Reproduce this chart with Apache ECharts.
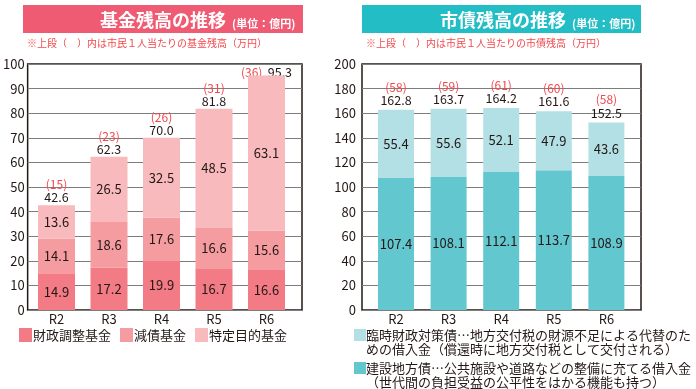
<!DOCTYPE html>
<html><head><meta charset="utf-8">
<script src="https://cdn.jsdelivr.net/npm/echarts@6/dist/echarts.min.js"></script>
<style>html,body{margin:0;padding:0;background:#fff}#c{width:696px;height:389px}</style>
</head><body><div id="c"></div>
<script>
const categories = ['R2', 'R3', 'R4', 'R5', 'R6'];
// 基金残高 (億円)
const zaiseiChosei = [14.9, 17.2, 19.9, 16.7, 16.6];
const gensai = [14.1, 18.6, 17.6, 16.6, 15.6];
const tokutei = [13.6, 26.5, 32.5, 48.5, 63.1];
const kikinTotal = [42.6, 62.3, 70.0, 81.8, 95.3];
const kikinPerCapita = [15, 23, 26, 31, 36];
// 市債残高 (億円)
const kensetsu = [107.4, 108.1, 112.1, 113.7, 108.9];
const rinji = [55.4, 55.6, 52.1, 47.9, 43.6];
const shisaiTotal = [162.8, 163.7, 164.2, 161.6, 152.5];
const shisaiPerCapita = [58, 59, 61, 60, 58];

const FONT = '"Noto Sans CJK JP","Noto Sans",sans-serif';
const DARK = '#231815';
const RED = '#F2484C';
const nameLeft = ['財政調整基金', '減債基金', '特定目的基金'];
const nameRight1 = '臨時財政対策債…地方交付税の財源不足による代替のた';
const nameRight2 = '建設地方債…公共施設や道路などの整備に充てる借入金';

const chart = echarts.init(document.getElementById('c'), null, {renderer: 'canvas'});

function inside() {
  return {show: true, position: 'inside', color: DARK, fontSize: 13, fontFamily: FONT,
    formatter: p => p.value.toFixed(1)};
}
function totalLabel(per, max, dist) {
  return {show: true, position: 'top', distance: dist, fontFamily: FONT, lineHeight: 13,
    formatter: p => {
      const pc = '{r|(' + per[p.dataIndex] + ')}';
      const t = '{t|' + p.value.toFixed(1) + '}';
      return p.value / max > 0.9 ? pc + '  ' + t : pc + '\n' + t;
    },
    rich: {r: {color: RED, fontSize: 12, fontFamily: FONT, lineHeight: 13},
           t: {color: DARK, fontSize: 12.5, fontFamily: FONT, lineHeight: 13}}};
}
function totalData(arr, max) {
  return arr.map(v => v / max > 0.9 ? {value: v, label: {distance: -3}} : v);
}

const option = {
  animation: false,
  textStyle: {fontFamily: FONT},
  grid: [
    {left: 23, top: 64, width: 279, height: 246, show: true, borderColor: DARK, borderWidth: 1.5, backgroundColor: 'transparent'},
    {left: 30.25, top: 64, width: 262.5, height: 246},
    {left: 362, top: 64, width: 279, height: 246, show: true, borderColor: DARK, borderWidth: 1.5, backgroundColor: 'transparent'},
    {left: 369.7, top: 64, width: 263, height: 246}
  ],
  xAxis: [
    {type: 'value', gridIndex: 0, show: false, min: 0, max: 1},
    {type: 'category', gridIndex: 1, data: categories, axisLine: {show: false}, axisTick: {show: false},
     axisLabel: {margin: 3, fontSize: 13, color: DARK, fontFamily: FONT}},
    {type: 'value', gridIndex: 2, show: false, min: 0, max: 1},
    {type: 'category', gridIndex: 3, data: categories, axisLine: {show: false}, axisTick: {show: false},
     axisLabel: {margin: 3, fontSize: 13, color: DARK, fontFamily: FONT}}
  ],
  yAxis: [
    {type: 'value', gridIndex: 0, min: 0, max: 100, interval: 10, axisLine: {show: false}, axisTick: {show: false},
     splitLine: {lineStyle: {color: '#7d7d7d', width: 1.2}}, axisLabel: {margin: 3, fontSize: 13, color: DARK, fontFamily: FONT}},
    {type: 'value', gridIndex: 1, min: 0, max: 100, show: false, splitLine: {show: false}},
    {type: 'value', gridIndex: 2, min: 0, max: 200, interval: 20, axisLine: {show: false}, axisTick: {show: false},
     splitLine: {lineStyle: {color: '#7d7d7d', width: 1.2}}, axisLabel: {margin: 6, fontSize: 13, color: DARK, fontFamily: FONT}},
    {type: 'value', gridIndex: 3, min: 0, max: 200, show: false, splitLine: {show: false}}
  ],
  legend: [
    {data: nameLeft, left: 19, top: 328, padding: 0, itemWidth: 13, itemHeight: 14, itemGap: 9, icon: 'rect',
     textStyle: {fontSize: 13, color: DARK, fontFamily: FONT, padding: [0, 0, 0, -4]}},
    {data: [nameRight1, nameRight2], orient: 'vertical', left: 354, top: 328, padding: 0, itemWidth: 12, itemHeight: 12, itemGap: 19, icon: 'rect',
     textStyle: {fontSize: 13, color: DARK, fontFamily: FONT, lineHeight: 14, padding: [0, 0, 0, -5]}}
  ],
  graphic: [
    {type: 'rect', shape: {x: 23, y: 5, width: 280, height: 28}, style: {fill: '#EF5B73'}},
    {type: 'text', x: 100, y: 20, style: {text: '{a|基金残高の推移}{b|(単位：億円)}', verticalAlign: 'middle',
      rich: {a: {fontSize: 18, fontWeight: 'bold', fill: '#fff', fontFamily: FONT},
             b: {fontSize: 11, fontWeight: 'bold', fill: '#fff', fontFamily: FONT, padding: [8, 0, 0, 6]}}}},
    {type: 'rect', shape: {x: 362, y: 5, width: 279, height: 28}, style: {fill: '#22BDC5'}},
    {type: 'text', x: 440, y: 20, style: {text: '{a|市債残高の推移}{b|(単位：億円)}', verticalAlign: 'middle',
      rich: {a: {fontSize: 18, fontWeight: 'bold', fill: '#fff', fontFamily: FONT},
             b: {fontSize: 11, fontWeight: 'bold', fill: '#fff', fontFamily: FONT, padding: [8, 0, 0, 6]}}}},
    {type: 'text', x: 27, y: 43, style: {text: '※上段（　）内は市民１人当たりの基金残高（万円）', fill: RED, fontSize: 10, fontFamily: FONT, verticalAlign: 'middle'}},
    {type: 'text', x: 366, y: 43, style: {text: '※上段（　）内は市民１人当たりの市債残高（万円）', fill: RED, fontSize: 10, fontFamily: FONT, verticalAlign: 'middle'}},
    {type: 'text', x: 366, y: 349, style: {text: 'めの借入金（償還時に地方交付税として交付される）', fill: DARK, fontSize: 13, fontFamily: FONT, verticalAlign: 'middle'}},
    {type: 'text', x: 366, y: 382, style: {text: '（世代間の負担受益の公平性をはかる機能も持つ）', fill: DARK, fontSize: 13, fontFamily: FONT, verticalAlign: 'middle'}}
  ],
  series: [
    {name: nameLeft[0], type: 'bar', stack: 'kikin', xAxisIndex: 1, yAxisIndex: 1, barWidth: 37, barGap: '-100%',
     itemStyle: {color: '#F37B86'}, label: inside(), data: zaiseiChosei},
    {name: nameLeft[1], type: 'bar', stack: 'kikin', xAxisIndex: 1, yAxisIndex: 1, barWidth: 37, barGap: '-100%',
     itemStyle: {color: '#F59CA1'}, label: inside(), data: gensai},
    {name: nameLeft[2], type: 'bar', stack: 'kikin', xAxisIndex: 1, yAxisIndex: 1, barWidth: 37, barGap: '-100%',
     itemStyle: {color: '#F8BABC'}, label: inside(), data: tokutei},
    {name: '基金合計', type: 'bar', xAxisIndex: 1, yAxisIndex: 1, barWidth: 37, barGap: '-100%', silent: true, z: 1,
     itemStyle: {color: 'rgba(0,0,0,0)'}, label: totalLabel(kikinPerCapita, 100, 1), data: totalData(kikinTotal, 100)},
    {name: nameRight2, type: 'bar', stack: 'shisai', xAxisIndex: 3, yAxisIndex: 3, barWidth: 36, barGap: '-100%',
     itemStyle: {color: '#63C7CF'}, label: inside(), data: kensetsu},
    {name: nameRight1, type: 'bar', stack: 'shisai', xAxisIndex: 3, yAxisIndex: 3, barWidth: 36, barGap: '-100%',
     itemStyle: {color: '#B3E0E5'}, label: inside(), data: rinji},
    {name: '市債合計', type: 'bar', xAxisIndex: 3, yAxisIndex: 3, barWidth: 36, barGap: '-100%', silent: true, z: 1,
     itemStyle: {color: 'rgba(0,0,0,0)'}, label: totalLabel(shisaiPerCapita, 200, 3), data: totalData(shisaiTotal, 200)}
  ]
};
chart.setOption(option);
</script></body></html>
